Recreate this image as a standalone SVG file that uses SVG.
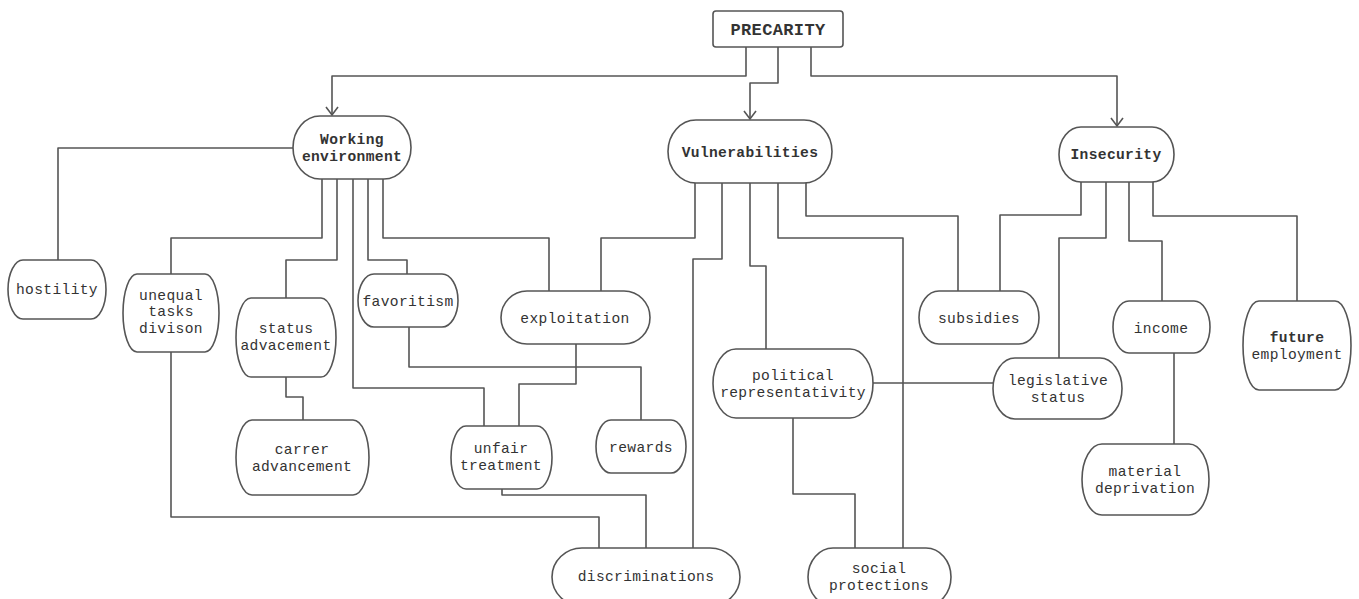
<svg xmlns="http://www.w3.org/2000/svg" width="1359" height="599" viewBox="0 0 1359 599">
<style>
.n{fill:#fff;stroke:#555;stroke-width:1.6}
.t{font-family:"Liberation Mono",monospace;font-size:14.6px;fill:#333;text-anchor:middle;letter-spacing:0.35px}
.b{font-weight:bold}
.c{fill:none;stroke:#555;stroke-width:1.6;stroke-linejoin:round}
</style>
<defs>
<marker id="arr" markerUnits="userSpaceOnUse" markerWidth="20" markerHeight="20" refX="10" refY="10" orient="auto" viewBox="0 0 20 20">
<path d="M2,4 L10,10 L2,16" fill="none" stroke="#555" stroke-width="1.6"/>
</marker>
</defs>
<rect width="1359" height="599" fill="#fff"/>
<g id="connectors">
<path class="c" marker-end="url(#arr)" d="M746,47 V76 H332 V115"/>
<path class="c" marker-end="url(#arr)" d="M778,47 V83 H750 V119"/>
<path class="c" marker-end="url(#arr)" d="M811,47 V76 H1117 V126"/>
<path class="c" d="M293,148 H58 V260"/>
<path class="c" d="M322,179 V238 H171 V274"/>
<path class="c" d="M337,179 V260 H286 V298"/>
<path class="c" d="M353,179 V388 H484 V426"/>
<path class="c" d="M368,179 V260 H407 V274"/>
<path class="c" d="M383,179 V238 H549 V291"/>
<path class="c" d="M286,377 V397 H303 V420"/>
<path class="c" d="M409,327 V367 H641 V420"/>
<path class="c" d="M695,183 V238 H601 V291"/>
<path class="c" d="M576,344 V384 H519 V426"/>
<path class="c" d="M502,489 V495 H646 V548"/>
<path class="c" d="M171,352 V517 H599 V548"/>
<path class="c" d="M722,183 V259 H693 V548"/>
<path class="c" d="M750,183 V266 H766 V349"/>
<path class="c" d="M778,183 V238 H903 V548"/>
<path class="c" d="M793,418 V494 H855 V548"/>
<path class="c" d="M873,383 H993"/>
<path class="c" d="M806,183 V216 H958 V291"/>
<path class="c" d="M1081,182 V215 H1000 V291"/>
<path class="c" d="M1106,182 V238 H1059 V358"/>
<path class="c" d="M1129,182 V241 H1162 V301"/>
<path class="c" d="M1174,353 V444"/>
<path class="c" d="M1153,182 V216 H1297 V301"/>
</g>
<g id="precarity"><rect class="n" x="713" y="11" width="130" height="36" rx="3"/><text class="t b" x="778" y="35" style="font-size:17px">PRECARITY</text></g>
<g id="working-environment"><rect class="n" x="293" y="116" width="118" height="63" rx="27" ry="31.5"/><text class="t b" x="352" y="144">Working</text><text class="t b" x="352" y="160.5">environment</text></g>
<g id="vulnerabilities"><rect class="n" x="668" y="120" width="164" height="63" rx="28" ry="31.5"/><text class="t b" x="750" y="157">Vulnerabilities</text></g>
<g id="insecurity"><rect class="n" x="1059" y="127" width="115" height="55" rx="22" ry="27.5"/><text class="t b" x="1116" y="159">Insecurity</text></g>
<g id="hostility"><rect class="n" x="8" y="260" width="98" height="59" rx="15" ry="29.5"/><text class="t" x="57" y="294">hostility</text></g>
<g id="unequal-tasks-divison"><rect class="n" x="123" y="274" width="96" height="78" rx="14" ry="39"/><text class="t" x="171" y="299.5">unequal</text><text class="t" x="171" y="316">tasks</text><text class="t" x="171" y="332.5">divison</text></g>
<g id="status-advacement"><rect class="n" x="236" y="298" width="100" height="79" rx="15" ry="39.5"/><text class="t" x="286" y="333">status</text><text class="t" x="286" y="349.5">advacement</text></g>
<g id="carrer-advancement"><rect class="n" x="236" y="420" width="133" height="75" rx="16" ry="37.5"/><text class="t" x="302" y="454">carrer</text><text class="t" x="302" y="470.5">advancement</text></g>
<g id="favoritism"><rect class="n" x="358" y="274" width="100" height="53" rx="16" ry="26.5"/><text class="t" x="408" y="306">favoritism</text></g>
<g id="exploitation"><rect class="n" x="501" y="291" width="149" height="53" rx="26" ry="26.5"/><text class="t" x="575" y="323">exploitation</text></g>
<g id="unfair-treatment"><rect class="n" x="451" y="426" width="101" height="63" rx="15" ry="31.5"/><text class="t" x="501" y="453">unfair</text><text class="t" x="501" y="469.5">treatment</text></g>
<g id="rewards"><rect class="n" x="596" y="420" width="90" height="53" rx="15" ry="26.5"/><text class="t" x="641" y="452">rewards</text></g>
<g id="discriminations"><rect class="n" x="552" y="548" width="188" height="58" rx="30" ry="29"/><text class="t" x="646" y="581">discriminations</text></g>
<g id="political-representativity"><rect class="n" x="713" y="349" width="160" height="69" rx="23" ry="34.5"/><text class="t" x="793" y="380">political</text><text class="t" x="793" y="396.5">representativity</text></g>
<g id="social-protections"><rect class="n" x="808" y="548" width="143" height="58" rx="25" ry="29"/><text class="t" x="879" y="573">social</text><text class="t" x="879" y="589.5">protections</text></g>
<g id="subsidies"><rect class="n" x="919" y="291" width="120" height="53" rx="20" ry="26.5"/><text class="t" x="979" y="323">subsidies</text></g>
<g id="legislative-status"><rect class="n" x="993" y="358" width="129" height="61" rx="22" ry="30.5"/><text class="t" x="1058" y="385">legislative</text><text class="t" x="1058" y="401.5">status</text></g>
<g id="income"><rect class="n" x="1113" y="301" width="97" height="52" rx="16" ry="26"/><text class="t" x="1161" y="333">income</text></g>
<g id="material-deprivation"><rect class="n" x="1082" y="444" width="127" height="71" rx="20" ry="35.5"/><text class="t" x="1145" y="476">material</text><text class="t" x="1145" y="492.5">deprivation</text></g>
<g id="future-employment"><rect class="n" x="1243" y="301" width="108" height="89" rx="16" ry="44.5"/><text class="t b" x="1297" y="342">future</text><text class="t" x="1297" y="358.5">employment</text></g>
</svg>
